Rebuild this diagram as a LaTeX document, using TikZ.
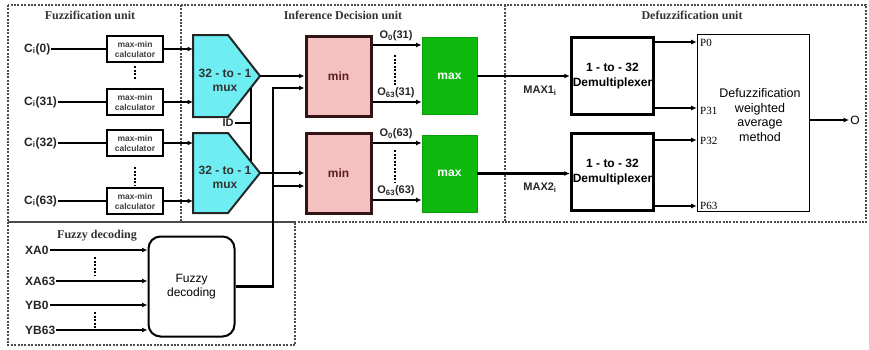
\documentclass[tikz,border=0pt]{standalone}
\usepackage{fontspec}
\setmainfont{Liberation Sans}
\newfontfamily\serifttl{Liberation Serif}
\usetikzlibrary{arrows.meta}
\definecolor{minpink}{RGB}{245,192,192}
\definecolor{minedge}{RGB}{50,20,20}
\definecolor{mintext}{RGB}{90,30,30}
\definecolor{maxgreen}{RGB}{12,185,12}
\definecolor{muxcyan}{RGB}{110,238,242}
\definecolor{framegray}{RGB}{75,75,75}
\tikzset{
  conn/.style={line width=2.2pt},
  arr/.style={line width=2.2pt,-{Latex[length=5.5pt,width=5pt]}},
  frame/.style={line width=2.2pt,dash pattern=on 2pt off 1.4pt,draw=framegray},
  dotv/.style={line width=2.4pt,dash pattern=on 2pt off 1.5pt},
  ttl/.style={font=\serifttl\bfseries\fontsize{12}{14}\selectfont,text=black!80,inner sep=1pt},
  lab/.style={font=\bfseries\fontsize{12}{14}\selectfont,text=black!85,inner sep=1pt},
  olab/.style={font=\bfseries\fontsize{11}{13}\selectfont,text=black!85,inner sep=1pt},
  plab/.style={font=\serifttl\fontsize{11}{13}\selectfont,inner sep=1pt},
  mmbox/.style={draw,line width=2.4pt,minimum width=56pt,minimum height=26pt,inner sep=0pt,
    align=center,font=\bfseries\fontsize{8.5}{10}\selectfont,text=black!75},
  muxshape/.style={draw=black!85,line width=2pt,fill=muxcyan,line join=miter},
  muxtext/.style={align=center,font=\bfseries\fontsize{12}{14}\selectfont,text=black!80,inner sep=0pt},
  minbox/.style={draw=minedge,line width=3pt,fill=minpink,minimum width=65pt,minimum height=80pt,
    font=\bfseries\fontsize{12}{14}\selectfont,text=mintext},
  maxbox/.style={draw=maxgreen!85!black,line width=0.8pt,fill=maxgreen,minimum width=55pt,minimum height=77pt,
    font=\bfseries\fontsize{12}{14}\selectfont,text=white},
  dmbox/.style={draw,line width=3.4pt,minimum width=82pt,minimum height=77pt,inner sep=0pt,align=center,
    font=\bfseries\fontsize{12}{14.5}\selectfont},
  dfbox/.style={draw,line width=1.6pt,minimum width=112pt,minimum height=177pt},
  dftext/.style={align=center,font=\fontsize{12.5}{14.5}\selectfont,inner sep=0pt},
  fdbox/.style={draw,line width=2pt,rounded corners=12pt,minimum width=86pt,minimum height=100pt,
    align=center,font=\fontsize{12}{14.5}\selectfont}
}
\begin{document}
\begin{tikzpicture}[x=1pt,y=-1pt]
\useasboundingbox (0,0) rectangle (869,349);
% frames
\draw[frame] (8,5) rectangle (866,222);
\draw[frame] (181,5) -- (181,222);
\draw[frame] (505,5) -- (505,222);
\draw[frame] (8,222) rectangle (295,345);
% titles
\node[ttl] (t1) at (90,15) {Fuzzification unit};
\node[ttl] (t2) at (343,15) {Inference Decision unit};
\node[ttl] (t3) at (692,15) {Defuzzification unit};
\node[ttl] (t4) at (97,236) {Fuzzy decoding};
% fuzzification unit
\node[mmbox] (mm1) at (135,49) {max-min\\calculator};
\node[mmbox] (mm2) at (135,102) {max-min\\calculator};
\node[mmbox] (mm3) at (135,143) {max-min\\calculator};
\node[mmbox] (mm4) at (135,201) {max-min\\calculator};
\node[lab,anchor=west] (c0) at (23,49) {C\textsubscript{i}(0)};
\node[lab,anchor=west] (c31) at (23,102) {C\textsubscript{i}(31)};
\node[lab,anchor=west] (c32) at (23,143) {C\textsubscript{i}(32)};
\node[lab,anchor=west] (c63) at (23,201) {C\textsubscript{i}(63)};
\draw[conn] (c0.east) -- (mm1.west);
\draw[conn] (c31.east) -- (mm2.west);
\draw[conn] (c32.east) -- (mm3.west);
\draw[conn] (c63.east) -- (mm4.west);
\draw[dotv] ([yshift=-3pt]mm1.south) -- ([yshift=9pt]mm2.north);
\draw[dotv] ([yshift=-10pt]mm3.south) -- ([yshift=1pt]mm4.north);
% multiplexers
\draw[muxshape] (193,35) -- (228,35) -- (260,76) -- (228,117) -- (193,117) -- cycle;
\draw[muxshape] (193,133) -- (228,133) -- (260,173) -- (228,213) -- (193,213) -- cycle;
\coordinate (m1L) at (193,76);
\coordinate (m1T) at (260,76);
\coordinate (m2L) at (193,173);
\coordinate (m2T) at (260,173);
\node[muxtext] (mux1) at (225,80) {32 - to - 1\\mux};
\node[muxtext] (mux2) at (225,177) {32 - to - 1\\mux};
\draw[arr] (mm1.east) -- (mm1.east -| m1L);
\draw[arr] (mm2.east) -- (mm2.east -| m1L);
\draw[arr] (mm3.east) -- (mm3.east -| m2L);
\draw[arr] (mm4.east) -- (mm4.east -| m2L);
% ID select
\node[olab] (id) at (228,123) {ID};
\coordinate (idv) at (251,123);
\coordinate (sa) at (251,88);
\coordinate (sb) at (251,161);
\draw[conn] (id.east) -- (idv);
\draw[conn] (sa) -- (sb);
% min blocks
\node[minbox] (min1) at (338.5,76) {min};
\node[minbox] (min2) at (338.5,173) {min};
\draw[arr] (m1T) -- (m1T -| min1.west);
\draw[arr] (m2T) -- (m2T -| min2.west);
% fuzzy decoding
\node[fdbox] (fd) at (191.5,286.5) {Fuzzy\\decoding};
\node[lab,anchor=west] (xa0) at (24,250) {XA0};
\node[lab,anchor=west] (xa63) at (24,281) {XA63};
\node[lab,anchor=west] (yb0) at (24,305) {YB0};
\node[lab,anchor=west] (yb63) at (24,330) {YB63};
\draw[arr] (xa0.east) -- (xa0.east -| fd.west);
\draw[arr] (xa63.east) -- (xa63.east -| fd.west);
\draw[arr] (yb0.east) -- (yb0.east -| fd.west);
\draw[arr] (yb63.east) -- (yb63.east -| fd.west);
\draw[dotv] (95,257) -- (95,275);
\draw[dotv] (95,312) -- (95,328);
\coordinate (bus1) at (273,88);
\coordinate (bus2) at (273,186);
\draw[arr] (fd.east) -| (bus1) -- (bus1 -| min1.west);
\draw[arr] (bus2) -- (bus2 -| min2.west);
% max blocks
\node[maxbox] (max1) at (449.5,76) {max};
\node[maxbox] (max2) at (449.5,173.5) {max};
\draw[arr] ([yshift=31pt]min1.east) -- ([yshift=31pt]min1.east -| max1.west);
\draw[arr] ([yshift=-26pt]min1.east) -- ([yshift=-26pt]min1.east -| max1.west);
\draw[arr] ([yshift=30pt]min2.east) -- ([yshift=30pt]min2.east -| max2.west);
\draw[arr] ([yshift=-27pt]min2.east) -- ([yshift=-27pt]min2.east -| max2.west);
\node[olab] (o031) at (396,36) {O\textsubscript{0}(31)};
\node[olab] (o6331) at (396,93) {O\textsubscript{63}(31)};
\node[olab] (o063) at (396,134) {O\textsubscript{0}(63)};
\node[olab] (o6363) at (396,191) {O\textsubscript{63}(63)};
\draw[dotv] (395,55) -- (395,86);
\draw[dotv] (395,150) -- (395,182);
% demultiplexers
\node[dmbox] (dm1) at (612.5,76) {1 - to - 32\\Demultiplexer};
\node[dmbox] (dm2) at (612.5,172) {1 - to - 32\\Demultiplexer};
\draw[arr] (max1.east) -- (max1.east -| dm1.west);
\draw[arr] (max2.east) -- (max2.east -| dm2.west);
\node[olab] (mx1) at (540,91) {MAX1\textsubscript{i}};
\node[olab] (mx2) at (540,188) {MAX2\textsubscript{i}};
% defuzzification
\node[dfbox] (df) at (753.5,123) {};
\node[dftext] (dft) at (760,115) {Defuzzification\\weighted\\average\\method};
\draw[arr] ([yshift=34pt]dm1.east) -- ([yshift=34pt]dm1.east -| df.west);
\draw[arr] ([yshift=-32pt]dm1.east) -- ([yshift=-32pt]dm1.east -| df.west);
\draw[arr] ([yshift=32pt]dm2.east) -- ([yshift=32pt]dm2.east -| df.west);
\draw[arr] ([yshift=-34pt]dm2.east) -- ([yshift=-34pt]dm2.east -| df.west);
\node[plab,anchor=west] (p0) at (699,43) {P0};
\node[plab,anchor=west] (p31) at (699,111) {P31};
\node[plab,anchor=west] (p32) at (699,141) {P32};
\node[plab,anchor=west] (p63) at (699,206) {P63};
\node[font=\fontsize{12}{14}\selectfont,inner sep=1pt] (out) at (855,120) {O};
\draw[arr] (df.east |- out) -- (out.west);
\end{tikzpicture}
\end{document}
